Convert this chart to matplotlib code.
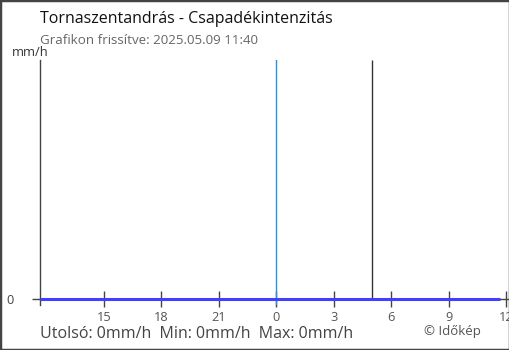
import matplotlib
matplotlib.use("Agg")
import matplotlib.pyplot as plt
from matplotlib.patches import Rectangle

plt.rcParams["font.family"] = ["Open Sans", "DejaVu Sans"]

# ---------------------------------------------------------------------------
# Data (hours relative to midnight, 11:40 yesterday -> 11:40 today)
# ---------------------------------------------------------------------------
TITLE = "Tornaszentandrás - Csapadékintenzitás"
SUBTITLE = "Grafikon frissítve: 2025.05.09 11:40"
HOURS = [-12.333, -11.333, -10.333, -9.333, -8.333, -7.333, -6.333, -5.333,
         -4.333, -3.333, -2.333, -1.333, -0.333, 0.667, 1.667, 2.667, 3.667,
         4.667, 5.667, 6.667, 7.667, 8.667, 9.667, 10.667, 11.667]
RAIN_MMH = [0, 0, 0, 0, 0, 0, 0, 0, 0, 0, 0, 0, 0,
            0, 0, 0, 0, 0, 0, 0, 0, 0, 0, 0, 0]
TICK_POS = [-9, -6, -3, 0, 3, 6, 9, 12]
TICK_LABELS = ["15", "18", "21", "0", "3", "6", "9", "12"]
MARKER_HOUR = 5.0
FOOTER = "Utolsó: 0mm/h  Min: 0mm/h  Max: 0mm/h"

W, H = 510, 350
fig = plt.figure(figsize=(W / 100, H / 100), dpi=100)


def px_axes(l, t, r, b):
    return fig.add_axes([l / W, 1 - b / H, (r - l) / W, (b - t) / H])


ax = px_axes(40, 60, 508, 305)
ax.set_xlim(-12.333, 12.1)
ax.set_ylim(-0.025, 1)

ax.plot(HOURS, RAIN_MMH, color="#4040ff", lw=2.2, solid_capstyle="butt", zorder=3)
ax.axvline(0, color="#2a8fdd", lw=1, zorder=2)
ax.vlines(MARKER_HOUR, 0, 1, color="#333333", lw=1, zorder=2)

for s in ["top", "right"]:
    ax.spines[s].set_visible(False)
ax.spines["bottom"].set_position(("data", 0))
ax.spines["bottom"].set_color("#444444")
ax.spines["left"].set_color("#444444")
ax.spines["left"].set_linewidth(1)
ax.spines["bottom"].set_linewidth(1)

ax.set_xticks(TICK_POS)
ax.set_xticklabels(TICK_LABELS)
ax.tick_params(axis="x", direction="inout", length=11, width=1, color="#444444",
               labelsize=9.2, labelcolor="#555555", pad=3)
ax.set_yticks([0])
ax.set_yticklabels(["0"])
ax.tick_params(axis="y", direction="out", length=6, width=1, color="#444444",
               labelsize=9.2, labelcolor="#444444", pad=18)
for lbl in ax.get_yticklabels():
    lbl.set_horizontalalignment("left")

fig.text(40 / W, 1 - 19 / H, TITLE, fontsize=11.5, color="#111111", va="center")
fig.text(40 / W, 1 - 41 / H, SUBTITLE, fontsize=9.6, color="#666666", va="center")
fig.text(12 / W, 1 - 52 / H, "mm/h", fontsize=9.3, color="#333333", va="center")
fig.text(40 / W, 1 - 334 / H, FOOTER, fontsize=11.5, color="#444444", va="center")
fig.text(424 / W, 1 - 331 / H, "© Időkép", fontsize=9.5, color="#555555", va="center")

fig.patches.append(Rectangle((0, 0), 1, 1, transform=fig.transFigure, fill=False,
                             edgecolor="#444444", lw=2.5, zorder=10))

fig.savefig("out.png", dpi=100)
